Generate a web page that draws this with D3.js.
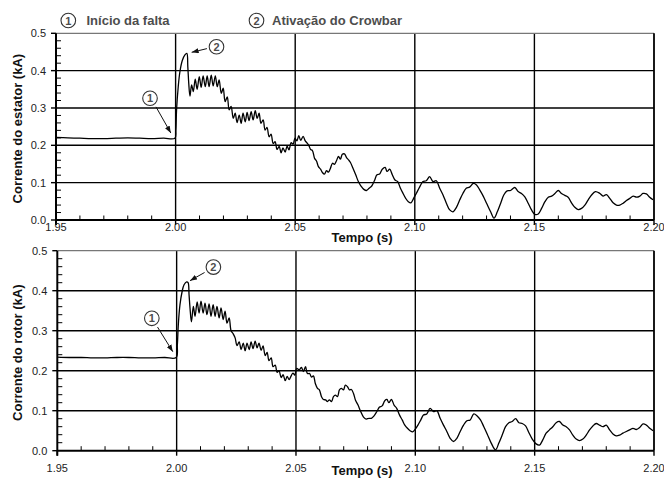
<!DOCTYPE html>
<html><head><meta charset="utf-8">
<script src="https://cdn.jsdelivr.net/npm/d3@7"></script>
<style>
html,body{margin:0;padding:0;background:#fff;}
svg{display:block;font-family:"Liberation Sans",Arial,sans-serif;}
</style></head><body>
<svg id="chart" width="664" height="478"></svg>
<script>
// Axis ticks
const timeTicks = [1.95, 2.00, 2.05, 2.10, 2.15, 2.20];
const currentTicks = [0.0, 0.1, 0.2, 0.3, 0.4, 0.5];
const legendLabels = ["Início da falta", "Ativação do Crowbar"];

// Stator current (kA) vs time (s)
const statorCurrent = [
[1.950,0.221],[1.955,0.220],[1.960,0.219],[1.965,0.218],[1.970,0.218],[1.975,0.219],[1.980,0.220],[1.985,0.219],[1.990,0.218],[1.995,0.219],[1.9997,0.219],
[2.0001,0.241],[2.0004,0.295],[2.0011,0.357],[2.0018,0.397],[2.0028,0.427],[2.0039,0.442],[2.0047,0.446],
[2.0051,0.411],[2.0055,0.366],[2.0060,0.332],
[2.0067,0.362],[2.0074,0.344],[2.0082,0.377],[2.0090,0.350],[2.0099,0.384],[2.0107,0.355],[2.0115,0.386],[2.0124,0.357],[2.0132,0.386],[2.0140,0.357],[2.0149,0.388],[2.0157,0.359],[2.0166,0.386],[2.0174,0.357],[2.0182,0.375],[2.0191,0.339],[2.0199,0.353],[2.0207,0.317],[2.0216,0.330],[2.0224,0.295],[2.0232,0.304],[2.0241,0.272],[2.0249,0.286],[2.0257,0.261],[2.0266,0.281],[2.0274,0.259],[2.0282,0.286],[2.0291,0.263],[2.0299,0.288],[2.0307,0.266],[2.0316,0.290],[2.0324,0.268],[2.0333,0.293],[2.0341,0.272],[2.0349,0.286],[2.0357,0.259],[2.0366,0.268],[2.0374,0.241],[2.0382,0.248],[2.0391,0.223],[2.0399,0.230],[2.0408,0.205],[2.0416,0.210],[2.0424,0.189],[2.0433,0.197],[2.0441,0.180],[2.0449,0.193],[2.0458,0.182],[2.0466,0.198],[2.0474,0.188],
[2.0483,0.207],[2.0491,0.203],[2.0499,0.219],[2.0507,0.212],[2.0515,0.226],[2.0523,0.213],[2.0533,0.224],[2.0542,0.212],[2.0550,0.206],[2.0557,0.200],[2.0564,0.189],[2.0572,0.186],[2.0581,0.165],[2.0589,0.158],[2.0597,0.143],[2.0606,0.136],[2.0614,0.127],[2.0622,0.123],[2.0631,0.132],[2.0639,0.128],[2.0647,0.138],[2.0656,0.152],[2.0664,0.149],[2.0672,0.158],[2.0681,0.170],[2.0689,0.163],[2.0697,0.176],[2.0706,0.177],[2.0714,0.168],[2.0723,0.161],[2.0731,0.154],[2.0742,0.138],[2.0753,0.121],[2.0764,0.103],[2.0775,0.091],[2.0787,0.082],[2.0798,0.079],[2.0809,0.085],[2.0820,0.091],[2.0831,0.105],[2.0842,0.121],[2.0853,0.123],[2.0864,0.136],[2.0876,0.141],[2.0884,0.130],[2.0895,0.136],[2.0906,0.121],[2.0917,0.107],[2.0928,0.103],[2.0940,0.085],[2.0951,0.071],[2.0962,0.058],[2.0973,0.049],[2.0984,0.046],[2.0995,0.058],[2.1006,0.071],[2.1020,0.088],[2.1034,0.103],[2.1048,0.105],[2.1062,0.116],[2.1076,0.103],[2.1090,0.105],[2.1104,0.085],[2.1118,0.067],[2.1132,0.045],[2.1146,0.027],[2.1160,0.022],[2.1174,0.034],[2.1188,0.054],[2.1201,0.071],[2.1215,0.085],[2.1229,0.088],
[2.1245,0.098],[2.1258,0.094],[2.1272,0.080],[2.1286,0.064],[2.1300,0.045],[2.1317,0.022],[2.1331,0.005],[2.1345,0.022],[2.1359,0.045],[2.1372,0.067],[2.1386,0.078],[2.1400,0.079],[2.1418,0.087],[2.1432,0.076],[2.1446,0.071],[2.1460,0.062],[2.1474,0.045],[2.1488,0.027],[2.1502,0.015],[2.1516,0.016],[2.1530,0.031],[2.1544,0.049],[2.1558,0.061],[2.1572,0.064],[2.1586,0.071],[2.1600,0.079],[2.1613,0.071],[2.1627,0.066],[2.1641,0.061],[2.1655,0.046],[2.1669,0.034],[2.1683,0.028],[2.1697,0.031],[2.1711,0.040],[2.1725,0.054],[2.1739,0.067],[2.1755,0.076],[2.1774,0.071],[2.1787,0.064],[2.1801,0.068],[2.1815,0.058],[2.1829,0.046],[2.1843,0.040],[2.1857,0.040],[2.1871,0.045],[2.1885,0.052],[2.1899,0.058],[2.1913,0.064],[2.1927,0.061],[2.1941,0.064],[2.1954,0.071],[2.1968,0.070],[2.1982,0.061],[2.1996,0.054]
];

// Rotor current (kA) vs time (s)
const rotorCurrent = [
[1.950,0.234],[1.955,0.233],[1.960,0.233],[1.965,0.232],[1.970,0.232],[1.975,0.233],[1.980,0.233],[1.985,0.232],[1.990,0.232],[1.995,0.233],[1.9998,0.233],
[2.0003,0.265],[2.0007,0.315],[2.0014,0.365],[2.0023,0.398],[2.0031,0.415],[2.0042,0.422],[2.0048,0.420],[2.0052,0.390],[2.0056,0.357],[2.0062,0.322],
[2.0070,0.361],[2.0077,0.336],[2.0086,0.372],[2.0094,0.344],[2.0102,0.374],[2.0111,0.344],[2.0119,0.369],[2.0127,0.340],[2.0136,0.367],[2.0144,0.336],[2.0153,0.365],[2.0161,0.336],[2.0169,0.361],[2.0178,0.332],[2.0186,0.357],[2.0195,0.328],[2.0203,0.349],[2.0211,0.319],[2.0220,0.332],[2.0228,0.300],[2.0237,0.292],[2.0245,0.282],[2.0253,0.263],[2.0262,0.272],[2.0270,0.253],[2.0279,0.269],[2.0287,0.250],[2.0295,0.269],[2.0304,0.253],[2.0312,0.272],[2.0320,0.255],[2.0329,0.274],[2.0337,0.257],[2.0345,0.269],[2.0354,0.251],[2.0362,0.262],[2.0371,0.238],[2.0379,0.246],[2.0387,0.225],[2.0396,0.232],[2.0404,0.210],[2.0413,0.214],[2.0421,0.196],[2.0429,0.200],[2.0438,0.183],[2.0446,0.190],[2.0455,0.175],[2.0463,0.186],[2.0471,0.178],
[2.0487,0.194],[2.0495,0.189],[2.0503,0.206],[2.0513,0.202],[2.0523,0.208],[2.0531,0.198],[2.0540,0.210],[2.0548,0.193],[2.0557,0.193],[2.0565,0.184],[2.0573,0.187],[2.0581,0.168],[2.0590,0.156],[2.0598,0.152],[2.0607,0.135],[2.0615,0.128],[2.0624,0.127],[2.0632,0.123],[2.0640,0.127],[2.0649,0.123],[2.0657,0.135],[2.0665,0.139],[2.0674,0.135],[2.0682,0.152],[2.0690,0.156],[2.0699,0.152],[2.0707,0.164],[2.0716,0.160],[2.0724,0.152],[2.0732,0.153],[2.0741,0.143],[2.0749,0.127],[2.0760,0.114],[2.0771,0.098],[2.0783,0.084],[2.0794,0.079],[2.0805,0.081],[2.0816,0.081],[2.0827,0.087],[2.0839,0.098],[2.0850,0.109],[2.0861,0.112],[2.0872,0.125],[2.0881,0.128],[2.0889,0.120],[2.0900,0.128],[2.0911,0.114],[2.0922,0.106],[2.0934,0.089],[2.0945,0.077],[2.0956,0.064],[2.0967,0.056],[2.0978,0.050],[2.0989,0.047],[2.1000,0.054],[2.1011,0.064],[2.1023,0.077],[2.1034,0.089],[2.1048,0.092],[2.1062,0.106],[2.1076,0.098],[2.1090,0.100],[2.1104,0.081],[2.1118,0.064],[2.1132,0.048],[2.1146,0.031],[2.1160,0.023],[2.1174,0.031],[2.1188,0.048],[2.1202,0.064],[2.1216,0.075],[2.1230,0.077],
[2.1245,0.092],[2.1259,0.087],[2.1273,0.077],[2.1287,0.060],[2.1301,0.042],[2.1318,0.019],[2.1336,0.002],[2.1350,0.019],[2.1364,0.039],[2.1378,0.060],[2.1392,0.070],[2.1406,0.073],[2.1420,0.080],[2.1434,0.070],[2.1448,0.068],[2.1462,0.062],[2.1476,0.045],[2.1490,0.029],[2.1506,0.017],[2.1520,0.014],[2.1534,0.027],[2.1548,0.044],[2.1562,0.052],[2.1576,0.060],[2.1590,0.070],[2.1604,0.073],[2.1618,0.064],[2.1632,0.060],[2.1646,0.052],[2.1660,0.039],[2.1674,0.029],[2.1688,0.025],[2.1702,0.029],[2.1716,0.039],[2.1730,0.052],[2.1744,0.062],[2.1758,0.068],[2.1772,0.064],[2.1786,0.060],[2.1800,0.064],[2.1814,0.052],[2.1828,0.042],[2.1842,0.037],[2.1856,0.039],[2.1870,0.044],[2.1884,0.048],[2.1898,0.052],[2.1912,0.056],[2.1926,0.053],[2.1940,0.058],[2.1954,0.067],[2.1968,0.064],[2.1982,0.056],[2.1996,0.050]
];

// Event callouts in data coordinates: marker circle, arrow start, arrow tip
const statorNotes = [
  {n: "1", circle: [1.9893, 0.326], from: [1.9918, 0.303], to: [1.9980, 0.233]},
  {n: "2", circle: [2.0171, 0.464], from: [2.0131, 0.459], to: [2.0067, 0.449]}
];
const rotorNotes = [
  {n: "1", circle: [1.9896, 0.331], from: [1.9920, 0.309], to: [1.9984, 0.2475]},
  {n: "2", circle: [2.0154, 0.459], from: [2.0117, 0.4455], to: [2.0056, 0.425]}
];

const svg = d3.select("#chart");
const INK = "#000";
const GREY = "#4d4d4d";

svg.append("defs").append("marker")
  .attr("id", "arrow").attr("viewBox", "0 0 8 6")
  .attr("refX", 8).attr("refY", 3)
  .attr("markerWidth", 7).attr("markerHeight", 5.5)
  .attr("markerUnits", "userSpaceOnUse").attr("orient", "auto")
  .append("path").attr("d", "M0,0L8,3L0,6Z").attr("fill", "#111");

function badge(g, cx, cy, label) {
  g.append("circle").attr("cx", cx).attr("cy", cy).attr("r", 7.3)
    .attr("fill", "#fff").attr("stroke", "#333").attr("stroke-width", 1.1);
  g.append("text").attr("x", cx).attr("y", cy + 4)
    .attr("text-anchor", "middle").attr("font-size", 11).attr("font-weight", "bold")
    .attr("fill", GREY).text(label);
}

function panel(cfg) {
  const x = d3.scaleLinear().domain([1.95, 2.20]).range([cfg.left, cfg.right]);
  const y = d3.scaleLinear().domain([0, 0.5]).range([cfg.bottom, cfg.top]);
  const g = svg.append("g");

  // horizontal grid
  g.selectAll(".hg").data(currentTicks.filter(v => v > 0 && v < 0.5)).join("line")
    .attr("x1", cfg.left).attr("x2", cfg.right)
    .attr("y1", d => y(d)).attr("y2", d => y(d))
    .attr("stroke", INK).attr("stroke-width", 1.4);
  // vertical grid, extended below the axis as major ticks
  g.selectAll(".vg").data(timeTicks).join("line")
    .attr("x1", d => x(d)).attr("x2", d => x(d))
    .attr("y1", d => (d > 1.95 && d < 2.2) ? cfg.top : cfg.bottom)
    .attr("y2", cfg.bottom + 5)
    .attr("stroke", INK).attr("stroke-width", 1.4);

  // minor ticks on time axis (every 0.01 s)
  const minorT = d3.range(1, 25).map(i => 1.95 + i * 0.01).filter(t => Math.abs(((t - 1.95) / 0.05) - Math.round((t - 1.95) / 0.05)) > 1e-6);
  g.selectAll(".mt").data(minorT).join("line")
    .attr("x1", d => x(d)).attr("x2", d => x(d))
    .attr("y1", cfg.bottom).attr("y2", cfg.bottom - 4.5)
    .attr("stroke", INK).attr("stroke-width", 1);
  // minor ticks on current axis (every 0.02 kA)
  const minorI = d3.range(1, 25).map(i => i * 0.02).filter(v => Math.abs(v * 10 - Math.round(v * 10)) > 1e-6);
  g.selectAll(".mi").data(minorI).join("line")
    .attr("x1", cfg.left).attr("x2", cfg.left + 5)
    .attr("y1", d => y(d)).attr("y2", d => y(d))
    .attr("stroke", INK).attr("stroke-width", 1);
  // major ticks on current axis
  g.selectAll(".Mi").data(currentTicks).join("line")
    .attr("x1", cfg.left - 5).attr("x2", cfg.left)
    .attr("y1", d => y(d)).attr("y2", d => y(d))
    .attr("stroke", INK).attr("stroke-width", 1.4);

  // waveform
  const line = d3.line().x(d => x(d[0])).y(d => y(d[1])).curve(d3.curveCatmullRom.alpha(0.5));
  g.append("path").datum(cfg.data).attr("d", line)
    .attr("fill", "none").attr("stroke", INK).attr("stroke-width", 1.3)
    .attr("stroke-linejoin", "round");

  // frame
  g.append("line").attr("x1", cfg.left).attr("x2", cfg.right).attr("y1", cfg.top).attr("y2", cfg.top)
    .attr("stroke", "#777").attr("stroke-width", 1.3);
  g.append("line").attr("x1", cfg.right).attr("x2", cfg.right).attr("y1", cfg.top).attr("y2", cfg.bottom)
    .attr("stroke", INK).attr("stroke-width", 1.8);
  g.append("line").attr("x1", cfg.left).attr("x2", cfg.left).attr("y1", cfg.top).attr("y2", cfg.bottom + 5)
    .attr("stroke", INK).attr("stroke-width", 2);
  g.append("line").attr("x1", cfg.left).attr("x2", cfg.right).attr("y1", cfg.bottom).attr("y2", cfg.bottom)
    .attr("stroke", INK).attr("stroke-width", 2);

  // tick labels
  g.selectAll(".yl").data(currentTicks).join("text")
    .attr("x", cfg.left - 10).attr("y", d => y(d) + 4)
    .attr("text-anchor", "end").attr("font-size", 11).attr("fill", "#222")
    .text(d => d3.format(".1f")(d));
  g.selectAll(".xl").data(timeTicks).join("text")
    .attr("x", d => x(d)).attr("y", cfg.tickBase)
    .attr("text-anchor", "middle").attr("font-size", 11).attr("fill", "#222")
    .text(d => d3.format(".2f")(d));

  // axis titles
  g.append("text").attr("x", 362).attr("y", cfg.xTitleBase)
    .attr("text-anchor", "middle").attr("font-size", 13).attr("font-weight", "bold").attr("fill", "#111")
    .text("Tempo (s)");
  g.append("text")
    .attr("transform", `translate(21.5,${(cfg.top + cfg.bottom) / 2 + 2}) rotate(-90)`)
    .attr("text-anchor", "middle").attr("font-size", 13).attr("font-weight", "bold").attr("fill", "#111")
    .text(cfg.yTitle);

  // event callouts
  cfg.notes.forEach(nt => {
    g.append("line")
      .attr("x1", x(nt.from[0])).attr("y1", y(nt.from[1]))
      .attr("x2", x(nt.to[0])).attr("y2", y(nt.to[1]))
      .attr("stroke", "#111").attr("stroke-width", 1).attr("marker-end", "url(#arrow)");
    badge(g, x(nt.circle[0]), y(nt.circle[1]), nt.n);
  });
}

panel({left: 56, right: 654, top: 33.3, bottom: 220, data: statorCurrent, notes: statorNotes,
       yTitle: "Corrente do estator (kA)", tickBase: 230.5, xTitleBase: 241.5});
panel({left: 57.3, right: 654, top: 250.7, bottom: 450.7, data: rotorCurrent, notes: rotorNotes,
       yTitle: "Corrente do rotor (kA)", tickBase: 471.5, xTitleBase: 475});

// legend
const lg = svg.append("g");
badge(lg, 68.3, 20.5, "1");
lg.append("text").attr("x", 86.5).attr("y", 25).attr("font-size", 13).attr("font-weight", "bold")
  .attr("fill", GREY).text(legendLabels[0]);
badge(lg, 256.5, 20.5, "2");
lg.append("text").attr("x", 272).attr("y", 25).attr("font-size", 13).attr("font-weight", "bold")
  .attr("fill", GREY).text(legendLabels[1]);
</script>
</body></html>
